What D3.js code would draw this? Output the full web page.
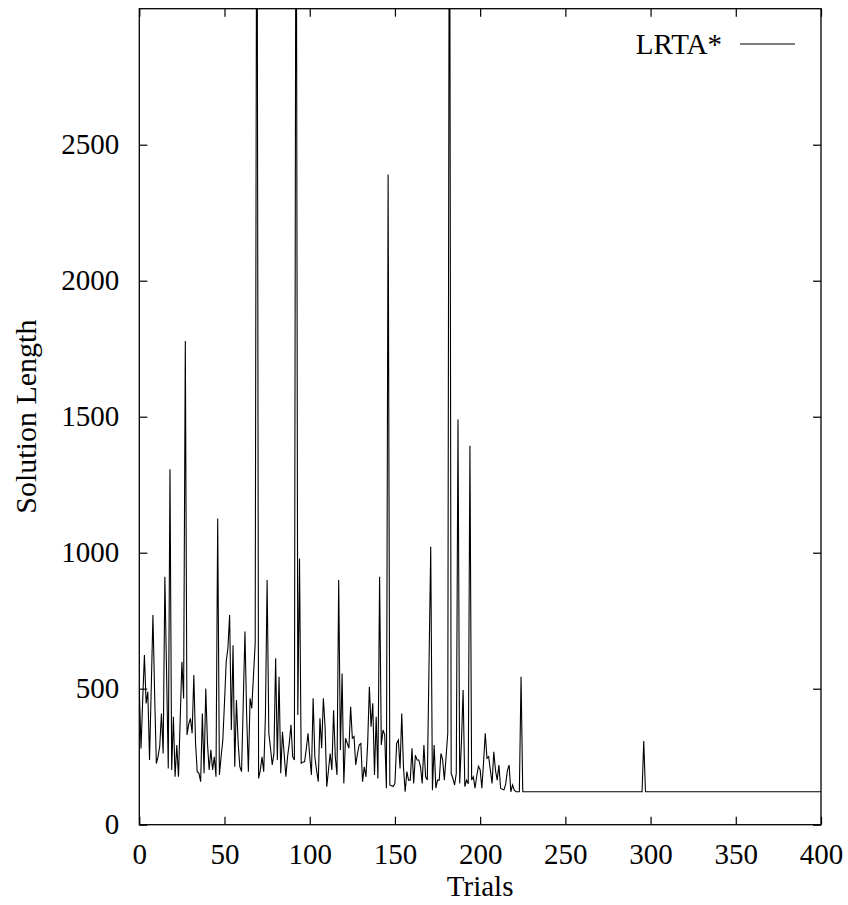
<!DOCTYPE html>
<html>
<head>
<meta charset="utf-8">
<script src="https://cdn.jsdelivr.net/npm/d3@7"></script>
<style>
  body { margin: 0; background: #fff; }
  text { font-family: "Liberation Serif", "Times New Roman", serif; fill: #000; }
</style>
</head>
<body>
<svg id="main_chart" width="848" height="905"></svg>
<script>
// tick labels
const xTicks = [0, 50, 100, 150, 200, 250, 300, 350, 400];
const yTicks = [0, 500, 1000, 1500, 2000, 2500];
const seriesName = "LRTA*";

// solution length per trial, trials 0..224 (spikes above 3000 leave the plot)
const solutionEarly = [
  500, 280, 460, 624, 446, 489, 238, 500, 771, 480,
  225, 250, 290, 409, 262, 912, 560, 207, 1307, 201,
  397, 176, 293, 176, 390, 599, 464, 1778, 330, 370,
  391, 336, 550, 300, 195, 189, 158, 409, 189, 501,
  300, 201, 275, 201, 250, 176, 1126, 183, 250, 311,
  450, 600, 650, 771, 348, 660, 213, 458, 300, 213,
  195, 450, 710, 400, 195, 465, 428, 550, 667, 4000,
  170, 200, 250, 195, 400, 900, 336, 280, 220, 262,
  612, 238, 544, 189, 342, 260, 176, 250, 300, 367,
  250, 238, 4000, 403, 979, 226, 230, 232, 280, 336,
  250, 183, 465, 250, 200, 158, 391, 281, 465, 360,
  140, 200, 262, 201, 421, 250, 183, 900, 275, 556,
  152, 318, 300, 281, 434, 318, 324, 220, 260, 293,
  299, 158, 213, 176, 300, 507, 360, 446, 183, 397,
  170, 912, 293, 348, 330, 134, 2390, 146, 143, 140,
  152, 299, 311, 207, 409, 213, 121, 195, 164, 164,
  281, 152, 256, 238, 238, 213, 152, 293, 176, 164,
  590, 1022, 127, 293, 134, 164, 164, 262, 238, 164,
  250, 336, 4000, 189, 170, 146, 189, 1490, 152, 300,
  495, 140, 164, 150, 1393, 164, 176, 134, 180, 215,
  202, 134, 230, 336, 244, 250, 200, 152, 268, 200,
  164, 219, 134, 130, 128, 150, 200, 219, 121, 146,
  128, 121, 121, 121, 544
];

// trials 225..400
const solutionLate = [
  121, 121, 121, 121, 121, 121, 121, 121, 121, 121, 121, 121, 121, 121, 121, 121, 121, 121, 121, 121,
  121, 121, 121, 121, 121, 121, 121, 121, 121, 121, 121, 121, 121, 121, 121, 121, 121, 121, 121, 121,
  121, 121, 121, 121, 121, 121, 121, 121, 121, 121, 121, 121, 121, 121, 121, 121, 121, 121, 121, 121,
  121, 121, 121, 121, 121, 121, 121, 121, 121, 121, 121,
  308,
  121, 121, 121, 121, 121, 121, 121, 121, 121, 121, 121, 121, 121, 121, 121, 121, 121, 121, 121, 121,
  121, 121, 121, 121, 121, 121, 121, 121, 121, 121, 121, 121, 121, 121, 121, 121, 121, 121, 121, 121,
  121, 121, 121, 121, 121, 121, 121, 121, 121, 121, 121, 121, 121, 121, 121, 121, 121, 121, 121, 121,
  121, 121, 121, 121, 121, 121, 121, 121, 121, 121, 121, 121, 121, 121, 121, 121, 121, 121, 121, 121,
  121, 121, 121, 121, 121, 121, 121, 121, 121, 121, 121, 121, 121, 121, 121, 121, 121, 121, 121, 121,
  121, 121, 121, 121
];

const solution = solutionEarly.concat(solutionLate);

let svg = d3.select("#main_chart");

let xScale = d3.scaleLinear()
    .domain([0, 400])
    .range([139.3, 821]);

let yScale = d3.scaleLinear()
    .domain([0, 3000])
    .range([824.7, 8.7]);

let plotLeft = xScale(0), plotRight = xScale(400), plotTop = yScale(3000), plotBottom = yScale(0);

svg.append("clipPath")
    .attr("id", "plot-clip")
    .append("rect")
    .attr("x", plotLeft).attr("y", plotTop)
    .attr("width", plotRight - plotLeft).attr("height", plotBottom - plotTop);

// data line
let line = d3.line()
    .x((d, i) => xScale(i))
    .y(d => yScale(d));

svg.append("path")
    .datum(solution)
    .attr("clip-path", "url(#plot-clip)")
    .attr("fill", "none")
    .attr("stroke", "#000")
    .attr("stroke-width", 1.1)
    .attr("stroke-linejoin", "miter")
    .attr("d", line);

// axes, ticks pointing inward
function styleAxis(g) {
    g.select(".domain").remove();
    g.selectAll(".tick line").attr("stroke", "#000").attr("stroke-width", 1.2);
    g.selectAll(".tick text").style("font-size", "29px").attr("fill", "#000");
}

svg.append("g")
    .attr("transform", "translate(0," + plotBottom + ")")
    .call(d3.axisBottom(xScale).tickValues(xTicks).tickFormat(d3.format("d")).tickSize(-8).tickPadding(19))
    .call(styleAxis);

svg.append("g")
    .attr("transform", "translate(0," + plotTop + ")")
    .call(d3.axisTop(xScale).tickValues(xTicks).tickSize(-8).tickFormat(""))
    .call(styleAxis);

svg.append("g")
    .attr("transform", "translate(" + plotLeft + ",0)")
    .call(d3.axisLeft(yScale).tickValues(yTicks).tickFormat(d3.format("d")).tickSize(-8).tickPadding(20))
    .call(styleAxis);

svg.append("g")
    .attr("transform", "translate(" + plotRight + ",0)")
    .call(d3.axisRight(yScale).tickValues(yTicks).tickSize(-8).tickFormat(""))
    .call(styleAxis);

// border
svg.append("rect")
    .attr("x", plotLeft).attr("y", plotTop)
    .attr("width", plotRight - plotLeft).attr("height", plotBottom - plotTop)
    .attr("fill", "none")
    .attr("stroke", "#000")
    .attr("stroke-width", 1.3);

// axis titles
svg.append("text")
    .attr("x", (plotLeft + plotRight) / 2)
    .attr("y", 896)
    .attr("text-anchor", "middle")
    .style("font-size", "29px")
    .text("Trials");

svg.append("text")
    .attr("transform", "translate(36," + ((plotTop + plotBottom) / 2) + ") rotate(-90)")
    .attr("text-anchor", "middle")
    .style("font-size", "30px")
    .text("Solution Length");

// key
svg.append("text")
    .attr("x", 722)
    .attr("y", 54)
    .attr("text-anchor", "end")
    .style("font-size", "29px")
    .text(seriesName);

svg.append("line")
    .attr("x1", 740).attr("x2", 795)
    .attr("y1", 44).attr("y2", 44)
    .attr("stroke", "#000")
    .attr("stroke-width", 1);
</script>
</body>
</html>
